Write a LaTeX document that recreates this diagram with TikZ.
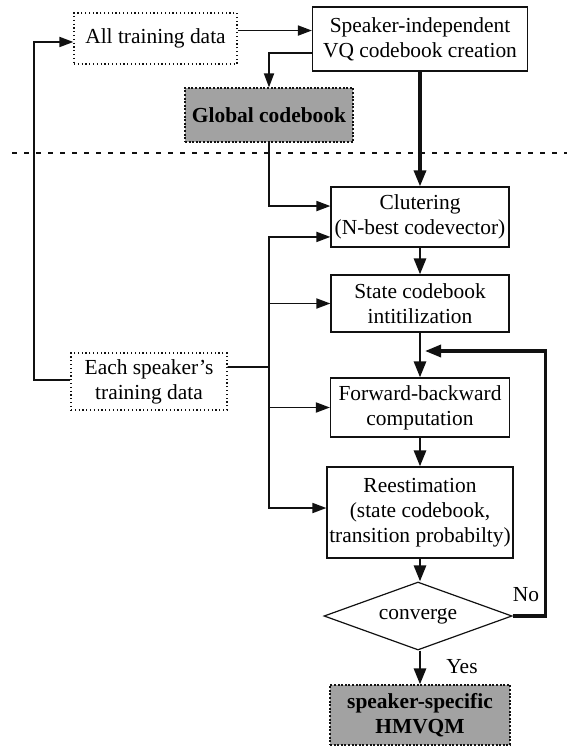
\documentclass[tikz,border=0pt]{standalone}
\usepackage{fontspec}
\setmainfont{Liberation Serif}
\usepackage{tikz}
\usetikzlibrary{shapes.geometric, arrows.meta}
\definecolor{inkblack}{HTML}{111111}
\definecolor{dotgray}{HTML}{A2A2A2}

\begin{document}
\begin{tikzpicture}[
        x=1bp, y=-1bp,
        font=\fontsize{21.5pt}{25pt}\selectfont,
        >={Triangle[length=14bp,width=10bp]},
        procbox/.style={draw=inkblack, line width=1.2bp, align=center, inner sep=2bp},
        databox/.style={draw=inkblack, line width=1.2bp, dash pattern=on 1.2bp off 2.6bp,
                        align=center, inner sep=2bp},
        resbox/.style={draw=inkblack, line width=1.2bp, dash pattern=on 2bp off 1.6bp,
                       fill=dotgray, align=center, inner sep=2bp,
                       font=\fontsize{21.5pt}{25pt}\selectfont\bfseries},
        decbox/.style={diamond, draw=inkblack, line width=1.2bp, inner sep=0pt, aspect=2.76},
        flowline/.style={draw=inkblack, line width=1.8bp, ->},
        busline/.style={draw=inkblack, line width=1.8bp},
        mainline/.style={draw=inkblack, line width=2.8bp, -{Triangle[length=16bp,width=12bp]}},
        loopline/.style={draw=inkblack, line width=3.3bp, -{Triangle[length=16bp,width=12bp]}},
        sepline/.style={draw=inkblack, line width=1.6bp, dash pattern=on 5bp off 7bp}
    ]
      \useasboundingbox (0,0) rectangle (567,747);

      % --- Speaker-independent part ---
      \node[databox, minimum width=163bp, minimum height=51bp] (alltrain) at (155.5,38.5) {All training data};
      \node[procbox, minimum width=215bp, minimum height=64bp] (sivq) at (420,39) {Speaker-independent\\VQ codebook creation};
      \node[resbox, minimum width=168bp, minimum height=54bp] (global) at (269,115) {Global codebook};

      \draw[flowline] ([yshift=8]alltrain.east) -- ([yshift=8]alltrain.east -| sivq.west);
      \draw[flowline] ([yshift=-14]sivq.west) -| (global.north);

      % Separator
      \draw[sepline] (12,153) -- (567,153);

      % --- Speaker-specific training ---
      \node[procbox, minimum width=178bp, minimum height=60bp] (clust) at (420,217) {Clutering\\(N-best codevector)};
      \node[procbox, minimum width=178bp, minimum height=57bp] (state) at (420,303.5) {State codebook\\intitilization};
      \node[databox, minimum width=156bp, minimum height=57bp] (each) at (149,381.5) {Each speaker's\\training data};
      \node[procbox, minimum width=179bp, minimum height=59bp] (fb) at (420,407.5) {Forward-backward\\computation};
      \node[procbox, minimum width=186bp, minimum height=91bp] (reest) at (420,512.5) {Reestimation\\(state codebook,\\transition probabilty)};
      \node[decbox, minimum width=188bp, minimum height=68bp] (conv) at (418,616) {converge};
      \node[resbox, minimum width=180bp, minimum height=60bp] (hmvqm) at (420,715) {speaker-specific\\HMVQM};

      % Main flow
      \draw[loopline] (sivq.south) -- (clust.north);
      \draw[mainline] (clust.south) -- (state.north);
      \draw[mainline] (state.south) -- (fb.north);
      \draw[mainline] (fb.south) -- (reest.north);
      \draw[mainline] (reest.south) -- (reest.south |- conv.north);
      \draw[mainline] (conv.south -| hmvqm.north) -- (hmvqm.north);

      % Global codebook into clustering
      \draw[flowline] (global.south) |- ([yshift=11]clust.west);

      % Each speaker's data bus
      \coordinate (bus) at (269,367);
      \draw[busline] ([yshift=14.5]each.east) -- (bus);
      \draw[flowline] (bus) |- ([yshift=-20]clust.west);
      \draw[flowline] (bus) |- (state.west);
      \draw[flowline] (bus) |- (fb.west);
      \draw[flowline] (bus) |- ([yshift=4.5]reest.west);
      \draw[flowline] ([yshift=1.5]each.west) -- ++(-36,0) |- ([yshift=-3.5]alltrain.west);

      % Iteration loop
      \coordinate (backin) at (425,351);
      \draw[loopline] (conv.east) -- ++(33,0) |- (backin);
      \node (nolbl) at (526,595) {No};
      \node (yeslbl) at (462,667) {Yes};
    \end{tikzpicture}
\end{document}
